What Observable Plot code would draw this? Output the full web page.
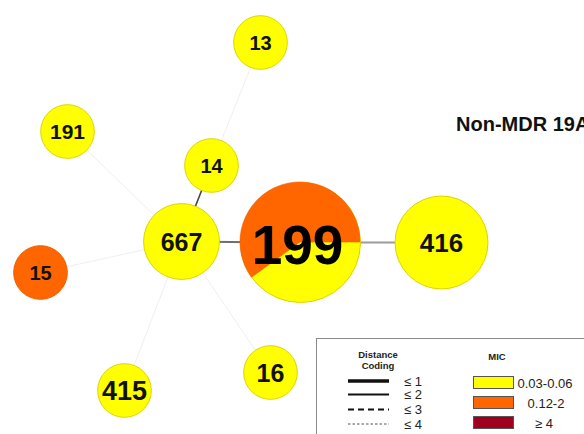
<!DOCTYPE html>
<html><head><meta charset="utf-8">
<script src="https://cdn.jsdelivr.net/npm/d3@7"></script>
<script src="https://cdn.jsdelivr.net/npm/@observablehq/plot@0.6"></script>
<style>
html,body{margin:0;padding:0;background:#fff;overflow:hidden;width:584px;height:434px;}
#wrap{position:relative;width:584px;height:434px;overflow:hidden;font-family:"Liberation Sans",Arial,sans-serif;}
#overlay{position:absolute;left:0;top:0;pointer-events:none;}
</style>
</head><body>
<div id="wrap"></div>
<script>
// ---- data ----
const nodeIds   = ["13", "191", "14", "667", "199", "416", "15", "415", "16"];
const nodeX     = [260, 67, 211, 181, 300, 441, 40, 124, 270];   // layout coordinates
const nodeY     = [42, 131, 165, 241, 242, 242, 272, 390, 372];
const isolates  = [1, 1, 1, 2, 5, 3, 1, 1, 1];                    // node size
const micMid    = [0, 0, 0, 0, 3, 0, 1, 0, 0];                    // isolates with MIC 0.12-2
const edgeFrom  = ["13", "191", "15", "415", "16", "14", "667", "199"];
const edgeTo    = ["14", "667", "667", "667", "667", "667", "199", "416"];
const edgeDist  = [4, 4, 4, 4, 4, 1, 2, 3];
const micClasses = ["0.03-0.06", "0.12-2", "\u2265 4"];
const distClasses = ["\u2264 1", "\u2264 2", "\u2264 3", "\u2264 4"];
const title = "Non-MDR 19A";

// ---- styles ----
const YELLOW = "#FFFF00", ORANGE = "#FF6600", DARKRED = "#A0001E";
const edgeColor = {1: "#454545", 2: "#6e6e6e", 3: "#9c9c9c", 4: "#efefef"};
const edgeWidth = {1: 1.6, 2: 2, 3: 2, 4: 1};
const labelSize = {"13": 20, "191": 21, "14": 20, "667": 25, "199": 55, "416": 26, "15": 20, "415": 27, "16": 25};
const FONT = "Liberation Sans, Arial, sans-serif";

const nodes = nodeIds.map((id, i) => ({id, x: nodeX[i], y: nodeY[i], n: isolates[i], mid: micMid[i]}));
const byId = new Map(nodes.map(d => [d.id, d]));
const edges = edgeFrom.map((s, i) => ({s: byId.get(s), t: byId.get(edgeTo[i]), dist: edgeDist[i]}));
const rScale = {type: "sqrt", domain: [0, 5], range: [0, 60]};
const rFallback = d3.scaleSqrt().domain(rScale.domain).range(rScale.range);

const pieMark = (index, scales) => {
  const g = d3.create("svg:g");
  const rf = scales.r || rFallback;
  for (const d of nodes.filter(d => d.mid > 0 && d.mid < d.n)) {
    const frac = d.mid / d.n;
    const arc = d3.arc().innerRadius(0).outerRadius(rf(d.n))
      .startAngle(Math.PI / 2 - frac * 2 * Math.PI).endAngle(Math.PI / 2);
    g.append("path").attr("d", arc())
      .attr("transform", `translate(${scales.x(d.x)},${scales.y(d.y)})`)
      .attr("fill", ORANGE).attr("stroke", "#ee6000").attr("stroke-width", 0.6);
  }
  return g.node();
};

const chart = Plot.plot({
  width: 584, height: 434, margin: 0,
  x: {domain: [0, 584], range: [0, 584], axis: null},
  y: {domain: [0, 434], range: [0, 434], axis: null},
  r: rScale,
  color: {type: "identity"},
  style: {background: "#fff"},
  marks: [
    Plot.link(edges, {
      x1: d => d.s.x, y1: d => d.s.y, x2: d => d.t.x, y2: d => d.t.y,
      stroke: d => edgeColor[d.dist], strokeWidth: d => edgeWidth[d.dist]
    }),
    Plot.dot(nodes, {
      x: "x", y: "y", r: "n",
      fill: d => d.mid === d.n ? ORANGE : YELLOW,
      stroke: d => d.mid === d.n ? "#ec5f00" : "#dcd400",
      strokeWidth: 1, fillOpacity: 1
    }),
    pieMark,
    Plot.text(nodes.filter(d => !(d.mid > 0 && d.mid < d.n)), {
      x: "x", y: "y", text: "id", fontSize: d => labelSize[d.id],
      fontWeight: "bold", fontFamily: FONT, fill: "#111", dy: 1
    }),
    Plot.text(nodes.filter(d => d.mid > 0 && d.mid < d.n), {
      x: "x", y: "y", text: "id", fontSize: d => labelSize[d.id],
      fontWeight: "bold", fontFamily: FONT, fill: "#000", dx: -3, dy: 4
    })
  ]
});
const wrap = document.getElementById("wrap");
wrap.appendChild(chart);

// ---- title & legend overlay ----
const ov = d3.select(wrap).append("svg").attr("id", "overlay")
  .attr("width", 584).attr("height", 434).attr("font-family", FONT);
ov.append("text").attr("x", 456).attr("y", 131).attr("font-size", 20)
  .attr("font-weight", "bold").attr("fill", "#111").text(title);

const lg = ov.append("g");
lg.append("rect").attr("x", 316.5).attr("y", 338.5).attr("width", 300).attr("height", 120)
  .attr("fill", "#fff").attr("stroke", "#8a8a8a");
lg.append("text").attr("x", 378).attr("y", 358).attr("text-anchor", "middle")
  .attr("font-size", 9.5).attr("font-weight", "bold").attr("fill", "#222").text("Distance");
lg.append("text").attr("x", 378).attr("y", 369).attr("text-anchor", "middle")
  .attr("font-size", 9.5).attr("font-weight", "bold").attr("fill", "#222").text("Coding");
const lineY = [381, 394.5, 409.5, 424];
const lineW = [3.4, 1.8, 2, 1];
const lineDash = [null, null, "6,4", "2.5,2"];
distClasses.forEach((lab, i) => {
  const l = lg.append("line").attr("x1", 348).attr("x2", 389).attr("y1", lineY[i]).attr("y2", lineY[i])
    .attr("stroke", "#111").attr("stroke-width", lineW[i]);
  if (lineDash[i]) l.attr("stroke-dasharray", lineDash[i]).attr("stroke", i === 3 ? "#555" : "#111");
  lg.append("text").attr("x", 404).attr("y", lineY[i] + 4.5).attr("font-size", 13)
    .attr("fill", "#222").text(lab);
});
lg.append("text").attr("x", 497).attr("y", 360).attr("text-anchor", "middle")
  .attr("font-size", 9.5).attr("font-weight", "bold").attr("fill", "#222").text("MIC");
const swY = [376.5, 396.5, 416.5];
const swC = [YELLOW, ORANGE, DARKRED];
const labX = [545, 546, 544];
micClasses.forEach((lab, i) => {
  lg.append("rect").attr("x", 473.5).attr("y", swY[i]).attr("width", 40).attr("height", 12)
    .attr("fill", swC[i]).attr("stroke", "#555");
  lg.append("text").attr("x", labX[i]).attr("y", swY[i] + 11).attr("text-anchor", "middle")
    .attr("font-size", 13).attr("fill", "#222").text(lab);
});
</script>
</body></html>
